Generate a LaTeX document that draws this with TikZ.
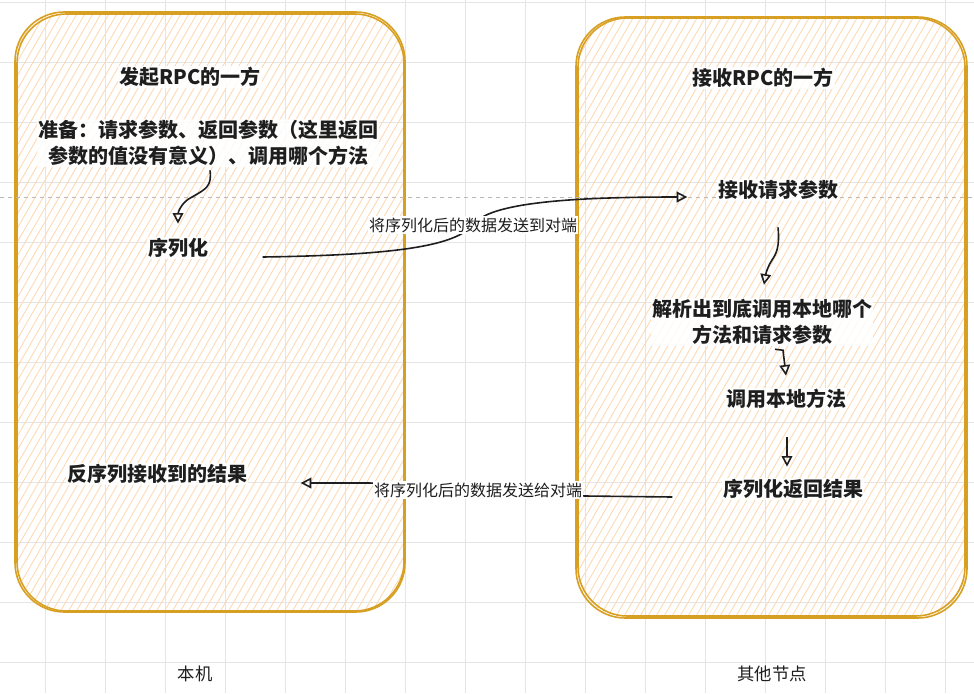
\documentclass[tikz,border=0pt]{standalone}
\usepackage{fontspec}
\setmainfont{Noto Sans CJK SC}
\usetikzlibrary{positioning,calc,arrows.meta}

\definecolor{boxgold}{RGB}{215,160,35}
\definecolor{hatch}{RGB}{253,216,178}
\definecolor{gridgray}{RGB}{229,229,229}
\definecolor{ink}{RGB}{30,30,30}

\begin{document}
\begin{tikzpicture}[x=0.75pt, y=-0.75pt,
  gridline/.style={draw=gridgray, line width=0.75pt},
  boxline/.style={draw=boxgold, line width=1.2pt, rounded corners=37pt},
  hatchline/.style={draw=hatch, line width=0.65pt},
  txt/.style={font=\fontsize{15pt}{19.5pt}\selectfont\bfseries, text=ink, fill=white, fill opacity=0.85, text opacity=1, inner sep=1pt, align=center},
  lbl/.style={font=\fontsize{12pt}{14pt}\selectfont, text=ink, fill=white, inner sep=1pt},
  captxt/.style={font=\fontsize{13pt}{15pt}\selectfont, text=ink},
  flow/.style={draw=ink, line width=1.2pt, -{Triangle[open, length=8pt, width=8pt]}}]
  \useasboundingbox (0,0) rectangle (974,693);

  % background grid
  \foreach \x in {45,105,...,945} \draw[gridline] (\x,0) -- (\x,693);
  \foreach \y in {2,62,...,662} \draw[gridline] (0,\y) -- (974,\y);

  % hatched boxes
  \begin{scope}
    \clip[rounded corners=37pt] (15,12) rectangle (405,612);
    \foreach \x in {-340,-332,...,410} \draw[hatchline] (\x,612) -- ++(346,-600);
  \end{scope}
  \begin{scope}
    \clip[rounded corners=37pt] (576,17) rectangle (967,618);
    \foreach \x in {-770,-762,...,970} \draw[hatchline] (\x+1,618) -- ++(346,-600);
  \end{scope}
  \draw[boxline] (15,12) rectangle (405,612);
  \draw[boxline] (17,14) rectangle (404,611);
  \draw[boxline] (576,17) rectangle (967,618);
  \draw[boxline] (578,18) rectangle (965,616);

  % dashed guide
  \draw[draw=gray!55, dashed, line width=0.6pt] (0,197) -- (974,197);

  % caller side
  \node[txt] (callerTitle) at (190,77) {发起RPC的一方};
  \node[txt] (prep) at (208,143) {准备：请求参数、返回参数（这里返回\\参数的值没有意义）、调用哪个方法};
  \node[txt] (ser) at (178,248) {序列化};
  \node[txt] (deser) at (157,474) {反序列接收到的结果};
  \node[captxt] (local) at (195,674) {本机};

  % callee side
  \node[txt] (calleeTitle) at (763,78) {接收RPC的一方};
  \node[txt] (recv) at (778,190) {接收请求参数};
  \node[txt] (parse) at (762,322) {解析出到底调用本地哪个\\方法和请求参数};
  \node[txt] (invoke) at (786,399) {调用本地方法};
  \node[txt] (retser) at (793,489) {序列化返回结果};
  \node[captxt] (other) at (772,674) {其他节点};

  % arrows
  \draw[flow] ($(prep.south)+(2,3)$) .. controls +(2,16) and +(14,-8) .. (192,197)
    .. controls +(-12,6) and +(0,-10) .. ($(ser.north)+(0,-13)$);
  \draw[flow] ($(ser.east)+(53,9)$) .. controls +(140,-2) and +(-18,20) .. (473,225)
    node[lbl] (sendlbl) {将序列化后的数据发送到对端}
    .. controls +(15,-22) and +(-120,0) .. ($(recv.west)+(-29,7)$);
  \draw[flow] ($(recv.south)+(0,26)$) .. controls +(2,20) and +(4,-6) .. (772,260)
    .. controls +(-4,6) and +(2,-12) .. ($(parse.north)+(2,-13)$);
  \draw[flow] ($(parse.south)+(13,3)$) -- +(8,1) -- ($(invoke.north)+(0,-12)$);
  \draw[flow] ($(invoke.south)+(1,27)$) -- ($(retser.north)+(-6,-11)$);
  \draw[flow] ($(retser.west)+(-49,8)$) -- (585,496) -- (478,490)
    node[lbl] (backlbl) {将序列化后的数据发送给对端} -- (370,483) -- ($(deser.east)+(52,9)$);
\end{tikzpicture}
\end{document}
